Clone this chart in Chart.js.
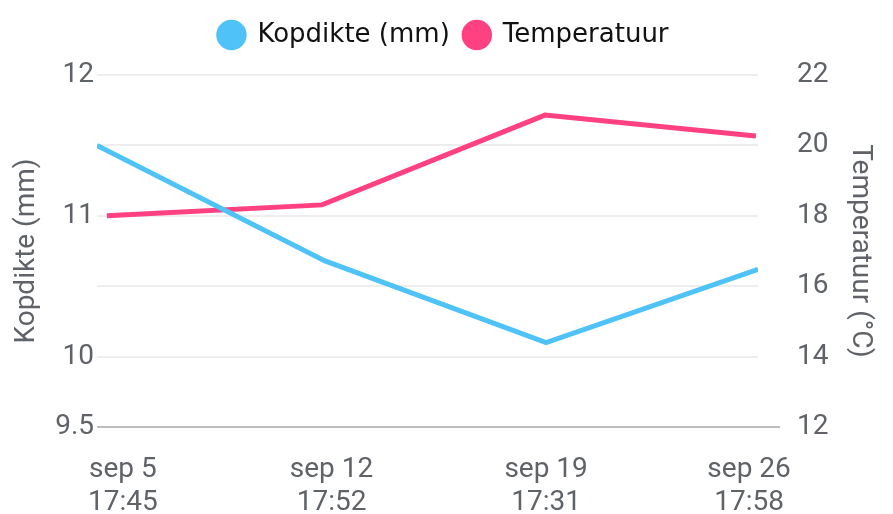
<!DOCTYPE html>
<html>
<head>
<meta charset="utf-8">
<script src="https://cdn.jsdelivr.net/npm/chart.js@4"></script>
<style>
  html, body { margin: 0; padding: 0; background: #fff; }
  #wrap { width: 893px; height: 514px; }
</style>
</head>
<body>
<div id="wrap"><canvas id="grafiek"></canvas></div>
<script>
// x = dag in september (decimaal)
const kopdikteX = [4.87, 12.52, 19.94, 27.05];
const kopdikte = [11.5, 10.68, 10.1, 10.62];

const temperatuurX = [5.20, 12.42, 19.90, 26.98];
const temperatuur = [18.0, 18.31, 20.86, 20.27];

const tickPosities = [5.74, 12.74, 19.94, 26.75];
const tickLabels = [
    ["sep 5", "17:45"],
    ["sep 12", "17:52"],
    ["sep 19", "17:31"],
    ["sep 26", "17:58"]
];

const tekstKleur = "#5f6368";
const asFont = { family: "Roboto", size: 28 };

function punten(xs, ys) {
    return xs.map((x, i) => ({ x: x, y: ys[i] }));
}

// legenda hoger maken zodat het grafiekvlak lager begint
const legendaHoogte = {
    id: "legendaHoogte",
    beforeInit(chart) {
        const fit = chart.legend.fit;
        chart.legend.fit = function () {
            fit.bind(chart.legend)();
            this.height = 67;
        };
    }
};

new Chart(document.getElementById("grafiek"), {
    type: "line",
    data: {
        datasets: [{
            label: "Kopdikte (mm)",
            data: punten(kopdikteX, kopdikte),
            yAxisID: "y",
            borderColor: "#4fc3f7",
            backgroundColor: "#4fc3f7",
            borderWidth: 5,
            pointRadius: 0,
            tension: 0
        }, {
            label: "Temperatuur",
            data: punten(temperatuurX, temperatuur),
            yAxisID: "y1",
            borderColor: "#ff4081",
            backgroundColor: "#ff4081",
            borderWidth: 5,
            pointRadius: 0,
            tension: 0
        }]
    },
    plugins: [legendaHoogte],
    options: {
        responsive: true,
        maintainAspectRatio: false,
        animation: false,
        layout: { padding: { left: 8, right: 14, top: 8, bottom: 0 } },
        plugins: {
            tooltip: { enabled: false },
            legend: {
                labels: {
                    usePointStyle: true,
                    pointStyle: "circle",
                    boxWidth: 26,
                    boxHeight: 18,
                    color: "#111",
                    font: { family: "DejaVu Sans", size: 26 },
                    padding: 14
                }
            }
        },
        scales: {
            x: {
                type: "linear",
                min: kopdikteX[0],
                max: kopdikteX[kopdikteX.length - 1],
                afterBuildTicks: axis => {
                    axis.ticks = tickPosities.map(v => ({ value: v }));
                },
                afterFit: axis => { axis.height = 87; },
                grid: { display: false },
                border: { display: false },
                ticks: {
                    autoSkip: false,
                    maxRotation: 0,
                    padding: 18,
                    color: tekstKleur,
                    font: asFont,
                    callback: v => tickLabels[tickPosities.indexOf(v)]
                }
            },
            y: {
                position: "left",
                min: 9.5,
                max: 12,
                afterFit: axis => { axis.width = 89; },
                grid: { display: true, drawOnChartArea: false, drawTicks: false },
                border: { display: false },
                ticks: { stepSize: 1, padding: 3, color: tekstKleur, font: asFont },
                title: {
                    display: true,
                    text: "Kopdikte (mm)",
                    color: tekstKleur,
                    font: asFont,
                    padding: 2
                }
            },
            y1: {
                position: "right",
                min: 12,
                max: 22,
                afterFit: axis => { axis.width = 121; },
                grid: {
                    lineWidth: 2,
                    tickLength: 22,
                    color: c => c.tick && c.tick.value === 12 ? "#bdbdbd" : "#eeeeee",
                    tickColor: c => c.tick && c.tick.value === 12 ? "#bdbdbd" : "rgba(0,0,0,0)"
                },
                border: { display: false },
                ticks: { stepSize: 2, padding: 17, color: tekstKleur, font: asFont },
                title: {
                    display: true,
                    text: "Temperatuur (°C)",
                    color: tekstKleur,
                    font: asFont,
                    padding: 2
                }
            }
        }
    }
});
</script>
</body>
</html>
